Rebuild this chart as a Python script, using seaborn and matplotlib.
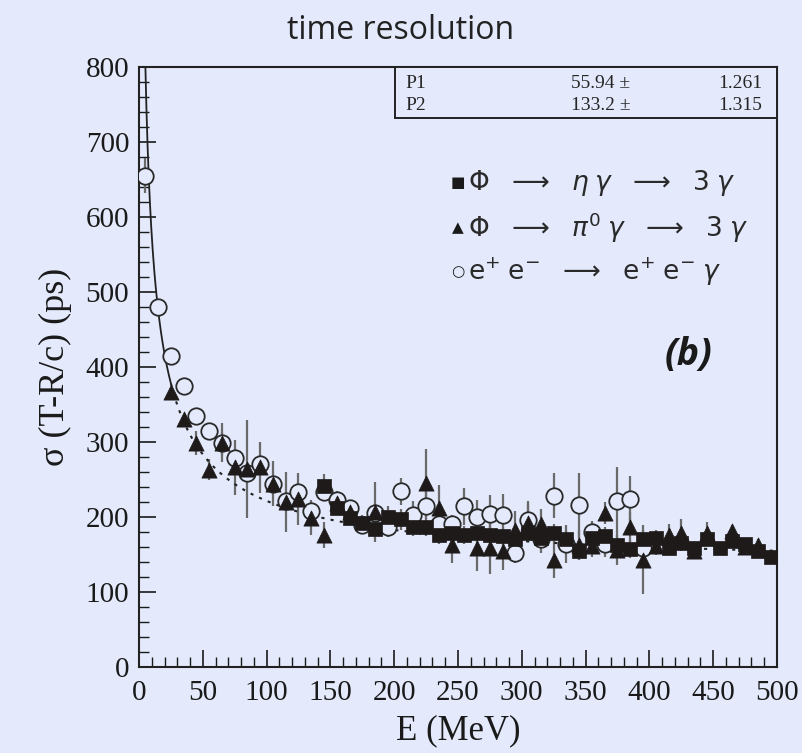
import numpy as np
import pandas as pd
import matplotlib
matplotlib.use("Agg")
import matplotlib.pyplot as plt
from matplotlib.patches import Rectangle
from matplotlib.ticker import MultipleLocator
import seaborn as sns

# ---------------- data ----------------
circ_E   = [5, 15, 25, 35, 45, 55, 65, 75, 85, 95, 105, 115, 125, 135, 145, 155, 165, 175, 185, 195,
            205, 215, 225, 235, 245, 255, 265, 275, 285, 295, 305, 315, 325, 335, 345, 355, 365, 375, 385, 395]
circ_val = [655, 480, 415, 374, 334, 314, 299, 278, 259, 271, 244, 221, 233, 208, 233, 222, 212, 189, 205, 187,
            234, 203, 215, 190, 190, 214, 200, 204, 202, 152, 196, 170, 228, 164, 216, 180, 164, 221, 224, 159]
circ_err = [23, 4, 4, 5, 5, 6, 26, 8, 10, 10, 8, 10, 10, 8, 8, 10, 10, 10, 12, 14,
            18, 18, 18, 18, 12, 25, 22, 25, 28, 14, 25, 18, 30, 25, 43, 15, 18, 46, 30, 20]

tri_E   = [25, 35, 45, 55, 65, 75, 85, 95, 105, 115, 125, 135, 145, 155, 165, 185, 225, 235, 245, 265,
           275, 285, 295, 305, 315, 325, 345, 355, 365, 375, 385, 395, 405, 415, 425, 435, 445, 465, 475, 485]
tri_val = [366, 330, 298, 263, 298, 266, 264, 266, 244, 220, 224, 199, 176, 219, 206, 207, 245, 212, 163, 158,
           159, 154, 183, 192, 190, 143, 162, 161, 205, 156, 187, 143, 161, 176, 179, 154, 178, 181, 160, 163]
tri_err = [4, 4, 16, 14, 15, 37, 65, 34, 30, 40, 35, 23, 17, 15, 10, 40, 45, 30, 25, 30,
           35, 25, 25, 25, 20, 25, 20, 15, 15, 20, 20, 46, 12, 15, 18, 10, 15, 8, 8, 8]

sq_E   = [145, 155, 165, 175, 185, 195, 205, 215, 225, 235, 245, 255, 265, 275, 285, 295, 305, 315, 325, 335,
          345, 355, 365, 375, 385, 395, 405, 415, 425, 435, 445, 455, 465, 475, 485, 495]
sq_val = [241, 212, 199, 192, 184, 200, 197, 186, 186, 176, 178, 176, 178, 176, 174, 170, 178, 172, 178, 171,
          155, 172, 175, 163, 157, 170, 172, 159, 165, 159, 170, 159, 168, 164, 154, 147]
sq_err = [16, 10, 10, 10, 10, 14, 14, 12, 12, 12, 12, 12, 12, 12, 12, 12, 12, 12, 12, 12,
          12, 12, 12, 12, 12, 12, 10, 10, 10, 8, 8, 6, 6, 6, 6, 5]

P1, P1_err = 55.94, 1.261
P2, P2_err = 133.2, 1.315

x_ticks = [0, 50, 100, 150, 200, 250, 300, 350, 400, 450, 500]
y_ticks = [0, 100, 200, 300, 400, 500, 600, 700, 800]

# ---------------- style ----------------
BG = "#e4eafc"
sns.set_style("ticks")
plt.rcParams["font.family"] = ["Liberation Serif", "DejaVu Serif"]
plt.rcParams["mathtext.fontset"] = "dejavusans"

fig = plt.figure(figsize=(8.02, 7.53), dpi=100, facecolor=BG)
ax = fig.add_axes([0.1733, 0.1142, 0.7955, 0.797])
ax.set_facecolor(BG)

# fit curve
def fit(e):
    e = np.asarray(e, dtype=float)
    return np.sqrt((P1 / np.sqrt(e / 1000.0)) ** 2 + P2 ** 2)

e_solid = np.linspace(5.0, 25.0, 200)
e_dot = np.linspace(25.0, 500.0, 600)
sns.lineplot(x=e_solid, y=fit(e_solid), ax=ax, color="#222222", lw=1.3, zorder=2)
sns.lineplot(x=e_dot, y=fit(e_dot), ax=ax, color="#222222", lw=1.5, zorder=2,
             linestyle=(0, (1.5, 3.0)))

ERRC = "#6a6a6a"
# error bars
for E, v, er in [(circ_E, circ_val, circ_err), (tri_E, tri_val, tri_err), (sq_E, sq_val, sq_err)]:
    E = np.array(E); v = np.array(v); er = np.array(er)
    ax.vlines(E, v - er, v + er, color=ERRC, lw=1.6, zorder=1)

df_c = pd.DataFrame({"E": circ_E, "s": circ_val})
df_t = pd.DataFrame({"E": tri_E, "s": tri_val})
df_s = pd.DataFrame({"E": sq_E, "s": sq_val})

sns.scatterplot(data=df_c, x="E", y="s", ax=ax, marker="o", s=140, color=BG,
                edgecolor="#2a2a2a", linewidth=1.3, zorder=3)
sns.scatterplot(data=df_s, x="E", y="s", ax=ax, marker="s", s=110, color="#1e1a1a",
                edgecolor="#1e1a1a", linewidth=0.5, zorder=4)
sns.scatterplot(data=df_t, x="E", y="s", ax=ax, marker="^", s=120, color="#1e1a1a",
                edgecolor="#1e1a1a", linewidth=0.5, zorder=5)

ax.set_xlim(0, 500)
ax.set_ylim(0, 800)
ax.set_xticks(x_ticks)
ax.set_yticks(y_ticks)
ax.xaxis.set_minor_locator(MultipleLocator(10))
ax.yaxis.set_minor_locator(MultipleLocator(20))
ax.tick_params(axis="both", which="major", direction="in", length=12, width=1.2,
               labelsize=21, colors="#1a1a1a")
ax.tick_params(axis="x", which="major", pad=9)
ax.tick_params(axis="y", which="major", pad=7)
ax.tick_params(axis="both", which="minor", direction="in", length=7, width=1.0, colors="#1a1a1a")
ax.tick_params(top=False, right=False, which="both")
for sp in ax.spines.values():
    sp.set_visible(True)
    sp.set_linewidth(1.5)
    sp.set_color("#222222")

ax.set_xlabel("E (MeV)", fontsize=25, color="#1a1a1a", labelpad=6)
ax.set_ylabel("σ (T-R/c) (ps)", fontsize=26, color="#1a1a1a", labelpad=10)

fig.text(0.5, 0.960, "time resolution", ha="center", va="center", fontsize=23,
         family=["Open Sans", "DejaVu Sans"], color="#222222")

# stats box
ax.add_patch(Rectangle((0.401, 0.915), 0.599, 0.085, transform=ax.transAxes,
                       facecolor=BG, edgecolor="#222222", lw=1.4, zorder=6, clip_on=False))
for yy, name, val, err in [(0.972, "P1", f"{P1:.2f} ±", f"{P1_err:.3f}"),
                           (0.936, "P2", f"{P2:.1f} ±", f"{P2_err:.3f}")]:
    ax.text(0.417, yy, name, transform=ax.transAxes, fontsize=14, va="center", ha="left", zorder=7)
    ax.text(0.77, yy, val, transform=ax.transAxes, fontsize=14, va="center", ha="right", zorder=7)
    ax.text(0.977, yy, err, transform=ax.transAxes, fontsize=14, va="center", ha="right", zorder=7)

# legend text
sans = ["DejaVu Sans"]
leg = [("■", 0.807, r"$\Phi\ \ \longrightarrow\ \ \eta\;\gamma\ \ \longrightarrow\ \ 3\;\gamma$"),
       ("▲", 0.732, r"$\Phi\ \ \longrightarrow\ \ \pi^{0}\;\gamma\ \ \longrightarrow\ \ 3\;\gamma$"),
       ("○", 0.658, r"$\mathrm{e}^{+}\;\mathrm{e}^{-}\ \ \longrightarrow\ \ \mathrm{e}^{+}\;\mathrm{e}^{-}\;\gamma$")]
for sym, yy, txt in leg:
    ax.text(0.50, yy, sym, transform=ax.transAxes, fontsize=11, va="center", ha="center",
            family=sans, color="#1a1a1a")
    ax.text(0.516, yy, txt, transform=ax.transAxes, fontsize=19, va="center", ha="left",
            family=sans, color="#2a2a2a")

ax.text(0.862, 0.52, "(b)", transform=ax.transAxes, fontsize=27, fontweight="bold",
        fontstyle="italic", family=["Open Sans", "DejaVu Sans"], ha="center", va="center",
        color="#1a1a1a")

fig.savefig("out.png", dpi=100, facecolor=BG)
